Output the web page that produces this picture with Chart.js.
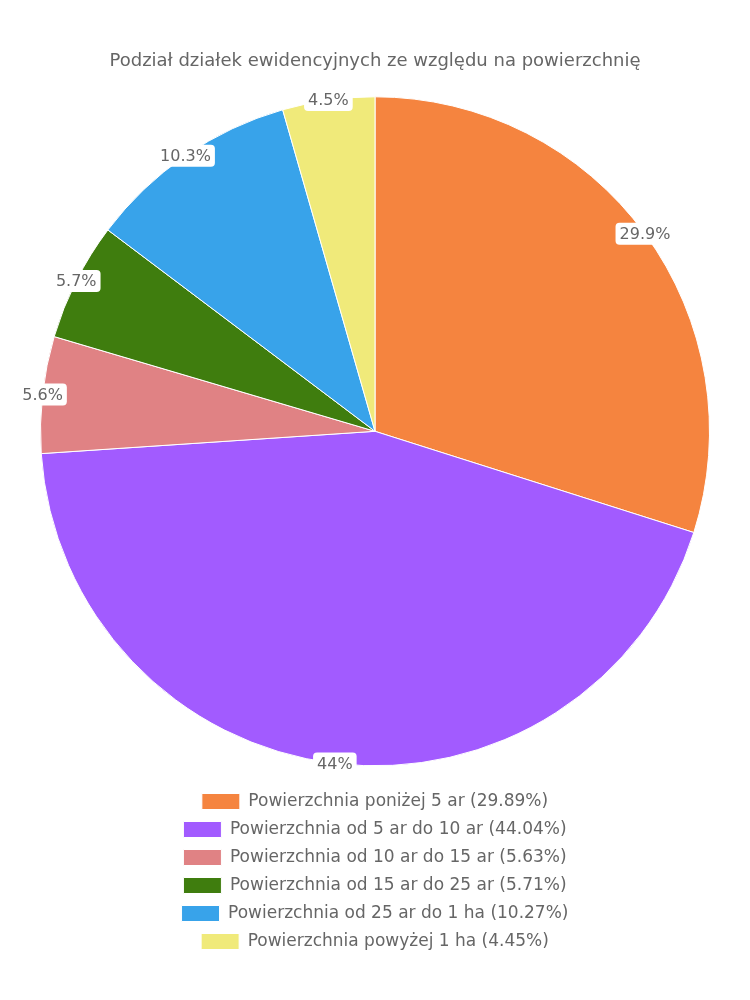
<!DOCTYPE html>
<html>
<head>
<meta charset="utf-8">
<script src="https://cdn.jsdelivr.net/npm/chart.js@4.4.1/dist/chart.umd.min.js"></script>
<style>
  html, body { margin: 0; padding: 0; background: #fff; }
  #wrap { width: 750px; height: 1000px; }
</style>
</head>
<body>
<div id="wrap"><canvas id="pieChart"></canvas></div>
<script>
const categories = [
    'Powierzchnia poniżej 5 ar',
    'Powierzchnia od 5 ar do 10 ar',
    'Powierzchnia od 10 ar do 15 ar',
    'Powierzchnia od 15 ar do 25 ar',
    'Powierzchnia od 25 ar do 1 ha',
    'Powierzchnia powyżej 1 ha'
];
const shares = [29.89, 44.04, 5.63, 5.71, 10.27, 4.45];
const sliceColors = ['#f5843f', '#a25bff', '#e08284', '#3f7d0e', '#38a3ea', '#f0ea7a'];

const FONT = "'DejaVu Sans', 'Noto Sans', sans-serif";
Chart.defaults.font.family = FONT;
Chart.defaults.color = '#666';

// labels in white rounded boxes at the outer edge of each slice
const edgeLabels = {
    id: 'edgeLabels',
    afterDatasetsDraw(chart) {
        const ctx = chart.ctx;
        const meta = chart.getDatasetMeta(0);
        ctx.save();
        ctx.font = '16px ' + FONT;
        ctx.textAlign = 'center';
        ctx.textBaseline = 'middle';
        meta.data.forEach((arc, i) => {
            const p = arc.getProps(['x', 'y', 'startAngle', 'endAngle', 'outerRadius'], true);
            const mid = (p.startAngle + p.endAngle) / 2;
            const x = p.x + Math.cos(mid) * p.outerRadius;
            const y = p.y + Math.sin(mid) * p.outerRadius;
            const text = (Math.round(shares[i] * 10) / 10) + '%';
            const w = ctx.measureText(text).width + 8;
            const h = 22;
            ctx.fillStyle = '#fff';
            ctx.beginPath();
            ctx.roundRect(x - w / 2, y - h / 2, w, h, 4);
            ctx.fill();
            ctx.fillStyle = '#666';
            ctx.fillText(text, x, y + 1);
        });
        ctx.restore();
    }
};

new Chart(document.getElementById('pieChart'), {
    type: 'pie',
    data: {
        labels: categories.map((c, i) => `${c} (${shares[i]}%)`),
        datasets: [{
            data: shares,
            backgroundColor: sliceColors,
            borderColor: '#fff',
            borderWidth: 1
        }]
    },
    options: {
        responsive: true,
        maintainAspectRatio: false,
        animation: false,
        layout: { padding: { top: 40, left: 40, right: 40, bottom: 40 } },
        plugins: {
            title: {
                display: true,
                text: 'Podział działek ewidencyjnych ze względu na powierzchnię',
                font: { size: 18, weight: 'normal' },
                color: '#666',
                padding: { top: 11, bottom: 8 }
            },
            legend: {
                position: 'bottom',
                labels: {
                    boxWidth: 38,
                    boxHeight: 16,
                    padding: 11,
                    font: { size: 17 },
                    color: '#666'
                }
            },
            tooltip: { enabled: false }
        }
    },
    plugins: [edgeLabels]
});
</script>
</body>
</html>
